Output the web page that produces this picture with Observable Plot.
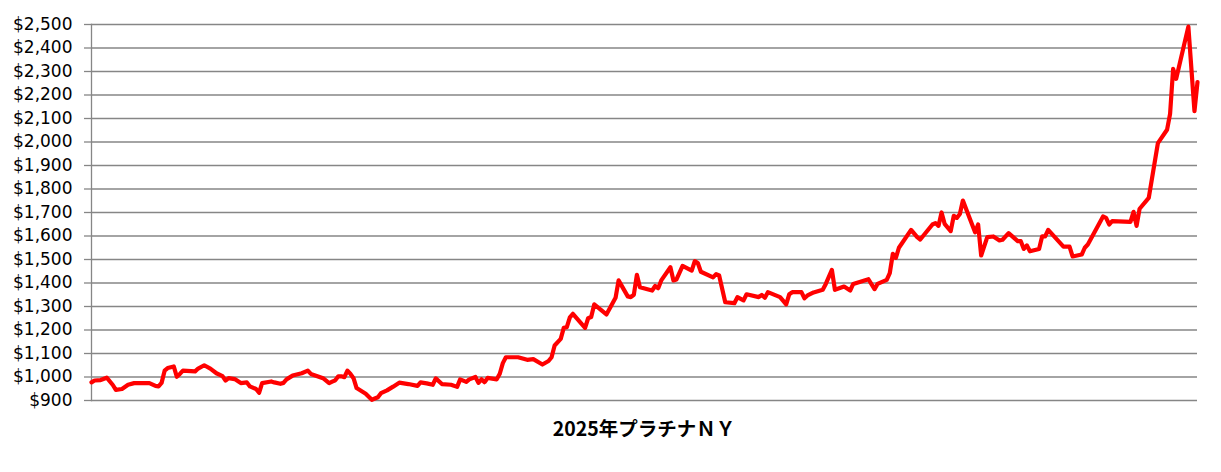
<!DOCTYPE html>
<html>
<head>
<meta charset="utf-8">
<script src="https://cdn.jsdelivr.net/npm/d3@7"></script>
<script src="https://cdn.jsdelivr.net/npm/@observablehq/plot@0.6"></script>
<style>
  html, body { margin: 0; padding: 0; background: #fff; }
  #chart svg { display: block; }
  #title {
    box-sizing: border-box; width: 1221px; padding-left: 91px; padding-right: 24px;
    text-align: center; font-family: "Noto Sans CJK JP", sans-serif; font-weight: bold;
    font-size: 19.5px; color: #000; margin-top: 6px; line-height: 24px;
  }
</style>
</head>
<body>
<div id="chart"></div>
<div id="title">2025年プラチナＮＹ</div>
<script>
// Day of year 2025 for each reading
const dayOfYear = [2,3,5,7,9,10,12,14,16,21,23,24,25,26,27,29,30,31,32,36,37,39,41,43,45,46,47,49,51,53,54,56,57,58,61,62,64,65,66,68,70,71,73,74,78,80,81,82,83,84,85,86,87,88,89,92,94,96,97,99,101,103,106,109,110,112,114,115,117,120,122,123,125,126,128,129,130,131,132,135,136,137,138,142,145,147,150,152,153,154,156,157,158,159,160,164,165,166,167,171,174,175,178,179,180,181,182,186,187,188,189,192,193,194,196,199,200,201,202,206,207,208,210,213,214,216,217,221,222,223,224,228,230,231,232,235,236,237,239,242,243,245,246,249,251,252,257,259,260,263,264,265,266,267,271,273,274,278,279,280,281,282,284,285,286,287,288,290,292,293,294,296,298,300,301,303,306,307,308,309,310,313,314,315,316,321,323,324,327,328,329,334,335,336,337,343,344,345,346,349,352,355,356,357,358,362,364,365];
// Platinum NY price (USD/oz)
const price = [977,985,987,997,966,945,949,967,974,974,962,960,975,1027,1038,1045,1001,1013,1027,1024,1036,1050,1036,1016,1004,985,995,991,974,977,960,949,933,974,981,977,971,975,990,1006,1013,1016,1027,1013,995,974,980,986,1003,1003,999,1027,1013,995,953,929,903,914,931,943,959,976,970,962,977,973,967,994,970,967,958,990,979,990,1000,975,990,978,996,990,1014,1059,1084,1084,1073,1076,1053,1068,1084,1134,1162,1209,1212,1254,1269,1209,1250,1255,1309,1266,1337,1411,1343,1340,1350,1435,1382,1368,1387,1378,1411,1467,1411,1415,1473,1453,1493,1485,1448,1424,1438,1432,1318,1314,1340,1326,1352,1340,1349,1337,1361,1340,1309,1352,1361,1361,1335,1347,1360,1371,1396,1456,1371,1385,1368,1396,1416,1374,1396,1413,1442,1524,1507,1550,1626,1595,1585,1649,1655,1643,1700,1652,1621,1686,1677,1694,1751,1683,1616,1649,1517,1595,1598,1581,1584,1612,1578,1578,1545,1560,1535,1545,1598,1598,1626,1555,1555,1513,1521,1550,1564,1683,1677,1649,1663,1660,1703,1643,1716,1762,1995,2052,2120,2311,2269,2491,2131,2255];
const yTicks = [900,1000,1100,1200,1300,1400,1500,1600,1700,1800,1900,2000,2100,2200,2300,2400,2500];
const yearStart = [2025, 0, 2];
const yearEnd = [2025, 11, 31];

const data = dayOfYear.map((d, i) => ({ date: new Date(Date.UTC(2025, 0, d)), value: price[i] }));
const fmt = d3.format(",");

const chart = Plot.plot({
  width: 1221,
  height: 410,
  marginLeft: 91,
  marginRight: 24,
  marginTop: 24,
  marginBottom: 10,
  style: { fontFamily: "'DejaVu Sans', sans-serif", fontSize: "17px", color: "#000", background: "#fff" },
  x: { type: "utc", domain: [new Date(Date.UTC(...yearStart)), new Date(Date.UTC(...yearEnd))], axis: null },
  y: { domain: [900, 2500], label: null },
  marks: [
    Plot.gridY(yTicks, { stroke: "#868686", strokeOpacity: 1, strokeWidth: 1.3 }),
    Plot.axisY(yTicks, { label: null, tickSize: 7, tickPadding: 12, stroke: "#868686", strokeWidth: 1.3, tickFormat: d => "$" + fmt(d), fill: "#000" }),
    Plot.frame({ anchor: "left", stroke: "#868686", strokeWidth: 1.3 }),
    Plot.line(data, { x: "date", y: "value", stroke: "#ff0000", strokeWidth: 4.2, strokeLinejoin: "round", strokeLinecap: "round" })
  ]
});
document.getElementById("chart").appendChild(chart);
</script>
</body>
</html>
